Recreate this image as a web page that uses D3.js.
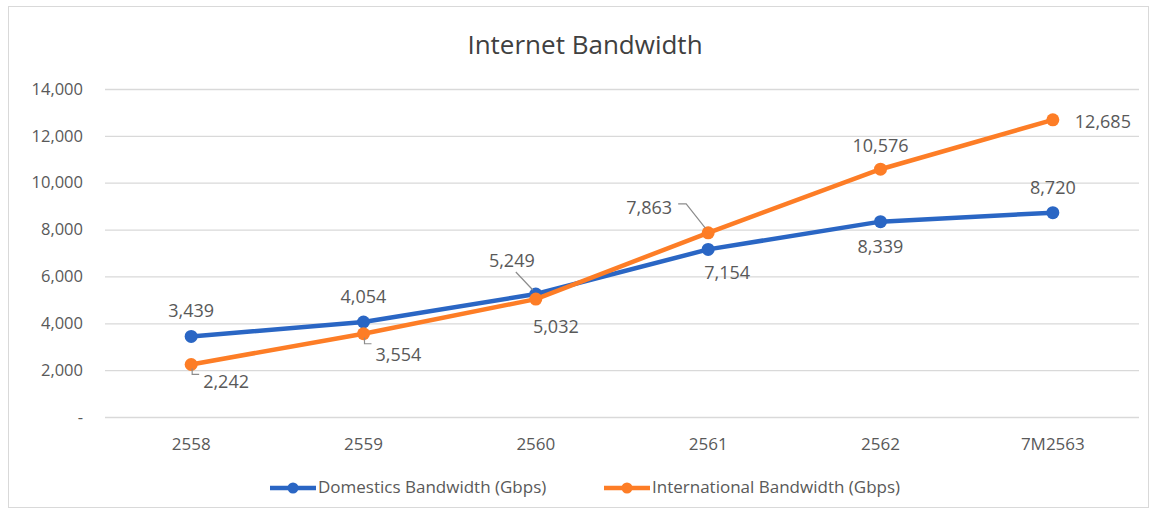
<!DOCTYPE html>
<html>
<head>
<meta charset="utf-8">
<script src="https://cdn.jsdelivr.net/npm/d3@7"></script>
<style>
  body { margin: 0; background: #fff; }
  text { font-family: "Open Sans", "Liberation Sans", sans-serif; }
</style>
</head>
<body>
<div id="chart"></div>
<script>
// data
var years = ["2558", "2559", "2560", "2561", "2562", "7M2563"];
var domestic = [3439, 4054, 5249, 7154, 8339, 8720];
var international = [2242, 3554, 5032, 7863, 10576, 12685];
var yTicks = [0, 2000, 4000, 6000, 8000, 10000, 12000, 14000];

// label placement (dx, dy from the point, anchor, leader line)
var domLabelPos = [
  {dx: 0, dy: -24, a: "middle"},
  {dx: 0, dy: -24, a: "middle"},
  {dx: -24, dy: -32, a: "middle", leader: true},
  {dx: 19, dy: 25, a: "middle"},
  {dx: 0, dy: 27, a: "middle"},
  {dx: 0, dy: -24, a: "middle"}
];
var intLabelPos = [
  {dx: 12, dy: 19, a: "start", leader: "L"},
  {dx: 12, dy: 22, a: "start", leader: "L"},
  {dx: 20, dy: 29, a: "middle"},
  {dx: -36, dy: -24, a: "end", leader: "hook"},
  {dx: 0, dy: -22, a: "middle"},
  {dx: 22, dy: 3, a: "start"}
];

var W = 1156, H = 513;
var margin = {top: 89, right: 16, bottom: 96, left: 105};
var blue = "#2a66c4", orange = "#fd7d26", grey = "#595959";

var svg = d3.select("#chart").append("svg")
  .attr("width", W).attr("height", H);

// outer frame
svg.append("rect")
  .attr("x", 8.5).attr("y", 6.5)
  .attr("width", 1140).attr("height", 501)
  .attr("fill", "#fff").attr("stroke", "#d9d9d9");

var x = d3.scaleBand().domain(years)
  .range([margin.left, W - margin.right - 1]);
var y = d3.scaleLinear().domain([0, 14000])
  .range([H - margin.bottom, margin.top]);

// gridlines + y labels
var yAxis = d3.axisLeft(y).tickValues(yTicks)
  .tickSize(-(W - margin.right - 1 - margin.left))
  .tickPadding(22)
  .tickFormat(function (d) { return d === 0 ? "-" : d3.format(",")(d); });
var gy = svg.append("g")
  .attr("transform", "translate(" + margin.left + ",0)")
  .call(yAxis);
gy.select(".domain").remove();
gy.selectAll(".tick line").attr("stroke", "#d9d9d9").attr("stroke-width", 1.3);
gy.selectAll(".tick text").attr("fill", grey).style("font-size", "16.5px");

// x axis labels
var xAxis = d3.axisBottom(x).tickSize(0).tickPadding(21);
var gx = svg.append("g")
  .attr("transform", "translate(0," + y(0) + ")")
  .call(xAxis);
gx.select(".domain").remove();
gx.selectAll(".tick text").attr("fill", grey).style("font-size", "17px");

// title
svg.append("text")
  .attr("x", 585).attr("y", 54)
  .attr("text-anchor", "middle")
  .attr("fill", "#404040")
  .style("font-size", "26px")
  .text("Internet Bandwidth");

function cx(i) { return x(years[i]) + x.bandwidth() / 2; }

var line = d3.line()
  .x(function (d, i) { return cx(i); })
  .y(function (d) { return y(d); });

function drawSeries(vals, color) {
  svg.append("path").datum(vals)
    .attr("fill", "none").attr("stroke", color)
    .attr("stroke-width", 4.5).attr("stroke-linejoin", "round")
    .attr("d", line);
  svg.selectAll(null).data(vals).enter().append("circle")
    .attr("cx", function (d, i) { return cx(i); })
    .attr("cy", function (d) { return y(d); })
    .attr("r", 6.5).attr("fill", color);
}

function drawLabels(vals, pos) {
  vals.forEach(function (v, i) {
    var p = pos[i], px = cx(i), py = y(v);
    var lx = px + p.dx, ly = py + p.dy;
    if (p.leader === true) {
      svg.append("line")
        .attr("x1", lx + 4).attr("y1", ly + 10)
        .attr("x2", px - 3).attr("y2", py - 4)
        .attr("stroke", "#8c8c8c").attr("stroke-width", 1.2);
    } else if (p.leader === "L") {
      svg.append("path")
        .attr("d", "M" + (px + 1) + "," + (py + 4) + "V" + (py + 10) + "H" + (px + 8))
        .attr("fill", "none").attr("stroke", "#8c8c8c").attr("stroke-width", 1.2);
    } else if (p.leader === "hook") {
      svg.append("path")
        .attr("d", "M" + (lx + 6) + "," + (ly - 5) + "H" + (lx + 14) + "L" + (px - 3) + "," + (py - 5))
        .attr("fill", "none").attr("stroke", "#8c8c8c").attr("stroke-width", 1.2);
    }
    svg.append("text")
      .attr("x", lx).attr("y", ly)
      .attr("text-anchor", p.a)
      .attr("dominant-baseline", "middle")
      .attr("fill", grey)
      .style("font-size", "18px")
      .text(d3.format(",")(v));
  });
}

drawSeries(domestic, blue);
drawSeries(international, orange);
drawLabels(domestic, domLabelPos);
drawLabels(international, intLabelPos);

// legend
var legend = [
  {name: "Domestics Bandwidth (Gbps)", color: blue, x: 270},
  {name: "International Bandwidth (Gbps)", color: orange, x: 604}
];
legend.forEach(function (l) {
  var g = svg.append("g").attr("transform", "translate(" + l.x + ",488)");
  g.append("line").attr("x1", 0).attr("x2", 46)
    .attr("stroke", l.color).attr("stroke-width", 4.5);
  g.append("circle").attr("cx", 23).attr("r", 5.5).attr("fill", l.color);
  g.append("text").attr("x", 48).attr("y", 0)
    .attr("dominant-baseline", "middle")
    .attr("fill", grey).style("font-size", "17px")
    .text(l.name);
});
</script>
</body>
</html>
